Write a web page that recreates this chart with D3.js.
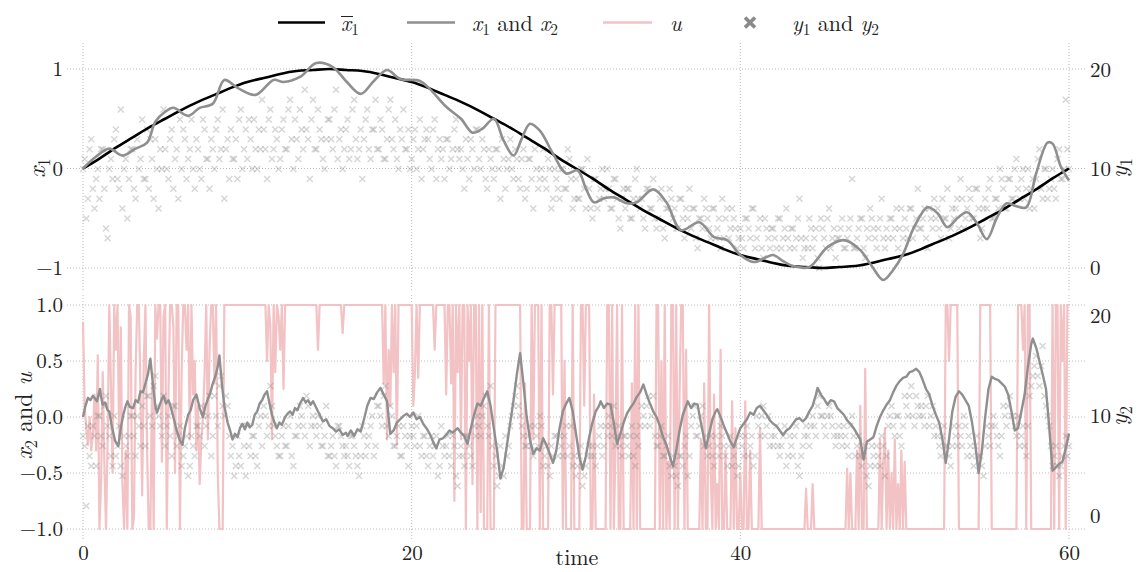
<!DOCTYPE html>
<html>
<head>
<meta charset="utf-8">
<script src="https://cdn.jsdelivr.net/npm/d3@7"></script>
<style>
  body { margin: 0; background: #fff; }
</style>
</head>
<body>
<svg id="mainsvg" width="1141" height="572"></svg>
<script>
// ---------------- data ----------------
// mean state x̄1 at t = 0,1,...,60
const meanTime = d3.range(0, 61, 1);
const meanX1 = [0,.10,.21,.31,.41,.50,.59,.67,.74,.81,.87,.91,.95,.98,.99,1,.99,.98,.95,.91,.87,.81,.74,.67,.59,.50,.41,.31,.21,.10,0,
  -.10,-.21,-.31,-.41,-.50,-.59,-.67,-.74,-.81,-.87,-.91,-.95,-.98,-.99,-1,-.99,-.98,-.95,-.91,-.87,-.81,-.74,-.67,-.59,-.50,-.41,-.31,-.21,-.10,0];

// simulated x1 (smooth)
const x1Time = [0,.8,1.6,2.4,3.2,3.9,4.4,5,5.5,6.4,7.1,7.9,8.6,9.4,10.5,11.6,12.2,13.2,14.2,15.2,16,16.9,17.7,18.5,19.3,20.5,21.1,22.1,23,23.7,24.3,25,25.6,26.2,26.7,27.2,27.8,28.6,29.4,30.1,30.6,31.1,31.7,32.3,33.1,33.7,34.7,35.5,36.4,37.5,38.4,39.2,40,40.8,41.6,42,42.6,43.2,44.2,45.3,46.3,47.3,48,48.7,49.3,49.9,50.6,51.4,52,52.6,53.2,53.8,54.4,55,55.6,56.2,56.8,57.4,58,58.7,59,59.5,60];
const x1Value = [0,.12,.2,.13,.2,.26,.47,.57,.61,.53,.61,.65,.89,.81,.74,.89,.87,.92,1.06,1.02,.88,.75,.88,.99,.9,.88,.8,.62,.5,.36,.4,.5,.28,.13,.3,.45,.38,.15,-.05,-.02,-.2,-.34,-.3,-.29,-.35,-.34,-.21,-.34,-.62,-.54,-.69,-.72,-.87,-.94,-.89,-.87,-.93,-.98,-.99,-.79,-.72,-.82,-.98,-1.12,-1.02,-.86,-.58,-.39,-.45,-.59,-.5,-.44,-.55,-.71,-.5,-.35,-.38,-.39,-.05,.26,.25,.02,-.12];

// simulated x2 (jagged)
const x2Time = [0,.15,.3,.45,.6,.75,.85,.95,1.03,1.1,1.2,1.35,1.5,1.6,1.75,1.95,2.15,2.3,2.45,2.6,2.7,2.85,3.05,3.2,3.35,3.5,3.65,3.8,3.95,4.1,4.25,4.4,4.5,4.65,4.8,4.9,5.05,5.2,5.3,5.5,5.7,5.9,6.05,6.2,6.4,6.55,6.7,6.9,7.1,7.3,7.45,7.6,7.75,7.9,8.05,8.2,8.3,8.45,8.6,8.8,8.95,9.1,9.25,9.4,9.55,9.7,9.85,10,10.15,10.3,10.45,10.6,10.75,10.9,11.05,11.2,11.35,11.5,11.65,11.8,11.95,12.1,12.3,12.45,12.6,12.75,12.9,13.05,13.2,13.4,13.55,13.7,13.85,14,14.2,14.4,14.6,14.8,15,15.2,15.4,15.6,15.8,16,16.1,16.3,16.5,16.7,16.9,17.1,17.3,17.5,17.7,17.9,18.1,18.3,18.5,18.7,18.9,19.1,19.3,19.5,19.7,19.9,20.1,20.3,20.5,20.7,20.9,21.1,21.3,21.5,21.7,21.9,22.1,22.3,22.5,22.8,23,23.2,23.4,23.6,23.8,24,24.2,24.4,24.6,24.8,25,25.2,25.4,25.6,25.8,26,26.2,26.4,26.6,26.8,27,27.2,27.4,27.6,27.8,28,28.2,28.4,28.6,28.8,29,29.2,29.4,29.6,29.8,30,30.2,30.4,30.6,30.8,31,31.2,31.4,31.5,31.7,31.9,32.1,32.3,32.5,32.7,32.9,33.1,33.3,33.5,33.7,33.9,34.1,34.3,34.5,34.7,34.9,35.1,35.3,35.5,35.7,35.9,36.1,36.3,36.5,36.7,36.8,37,37.2,37.4,37.6,37.8,37.9,38.1,38.3,38.5,38.6,38.8,39,39.2,39.4,39.6,39.8,40,40.2,40.4,40.6,40.8,41,41.2,41.4,41.6,41.8,42,42.2,42.4,42.6,42.8,43,43.2,43.4,43.6,43.8,44,44.2,44.4,44.6,44.7,44.9,45.1,45.3,45.5,45.7,45.9,46.1,46.3,46.5,46.7,46.9,47.1,47.3,47.5,47.7,47.9,48.1,48.3,48.5,48.7,48.9,49.1,49.3,49.5,49.7,49.9,50.1,50.3,50.5,50.7,50.9,51.1,51.3,51.5,51.7,51.9,52.1,52.3,52.5,52.7,52.9,53.1,53.3,53.5,53.7,53.9,54.1,54.3,54.5,54.7,54.9,55.1,55.3,55.5,55.7,55.9,56.1,56.3,56.5,56.7,56.9,57.1,57.3,57.5,57.7,57.8,58,58.2,58.4,58.6,58.8,59,59.2,59.4,59.6,59.8,60];
const x2Value = [0,.1,.17,.15,.19,.16,.14,.2,.25,.18,.11,.13,.06,.05,-.08,-.21,-.26,-.1,.02,.1,.14,.09,.08,.15,.13,.23,.22,.3,.38,.52,.3,.1,.04,.1,.16,.19,.12,.15,.11,0,-.12,-.21,-.25,-.1,.02,.06,.15,.2,.08,0,.1,.16,.22,.3,.36,.45,.55,.3,.1,-.05,-.12,-.2,-.15,-.18,-.1,-.06,-.11,-.05,-.09,-.07,.02,.05,.12,.15,.2,.23,.12,.02,-.05,-.1,-.05,-.07,0,.03,.05,.02,.08,.06,.12,.17,.13,.15,.11,.14,.08,.02,-.04,-.02,-.08,-.1,-.13,-.11,-.16,-.14,-.17,-.12,-.17,-.11,-.13,-.02,.1,.17,.16,.22,.26,.2,.14,-.15,-.12,-.05,-.02,.01,.03,0,.04,-.02,0,-.06,-.1,-.15,-.22,-.28,-.2,-.19,-.16,-.12,-.14,-.1,-.14,-.17,-.24,-.1,.02,.12,.1,.17,.23,.1,-.1,-.3,-.55,-.45,-.25,-.05,.15,.38,.57,.3,0,-.2,-.33,-.28,-.3,-.19,-.25,-.33,-.41,-.3,-.1,.05,.12,.17,.05,-.15,-.35,-.47,-.35,-.18,-.05,.05,.1,.14,.08,.12,.11,-.05,-.24,-.15,-.05,.03,.08,.12,.18,.22,.29,.2,.12,.05,0,-.08,-.18,-.25,-.35,-.44,-.3,-.12,.02,.1,.14,.08,.12,.11,-.05,-.2,-.28,-.15,-.02,.05,.07,0,-.08,-.15,-.22,-.27,-.18,-.1,-.06,-.02,.04,.02,.08,.1,.06,.02,-.03,-.06,-.08,-.12,-.16,-.12,-.1,-.06,-.02,-.01,-.04,-.01,.05,.1,.2,.26,.2,.16,.11,.15,.14,.08,.05,.02,-.03,-.06,-.1,-.15,-.2,-.38,-.22,-.2,-.18,-.08,0,.06,.11,.15,.22,.28,.32,.35,.36,.4,.41,.43,.4,.33,.25,.2,.1,.02,-.05,-.2,-.41,-.2,.05,.18,.23,.2,.15,.1,-.05,-.25,-.5,-.3,0,.25,.36,.34,.33,.3,.27,.2,.05,-.12,-.1,.05,.2,.45,.65,.7,.62,.5,.38,.25,-.1,-.48,-.45,-.42,-.4,-.28,-.15];

// control u, one value every 0.1 time units (rows = one time unit)
const uValue = [
  .85,.1,-.1,-.25,0,-.3,-.15,.2,-.3,.55,
  -1,-.6,.4,-.4,-1,-.2,1,.3,-.5,1,
  .6,1,-.2,.8,-.6,-1,-.3,-1,1,.9,
  -1,-.9,.4,1,1,.2,-.7,.5,1,-.3,
  -1,-1,.3,-1,1,.7,1,1,-.4,.9,
  1,-1,.2,1,1,.8,-.5,1,1,-1,
  .4,1,1,.6,1,-.2,1,.2,.5,-.3,
  .1,-.6,-.2,0,.4,1,-.2,.6,1,1,
  .3,1,-.5,-1,-1,-1,1,1,1,1,
  1,1,1,1,1,1,1,1,1,1,
  1,1,1,1,1,1,1,1,1,1,
  1,1,.5,1,.8,-.2,1,.4,1,.9,
  .6,1,.25,1,1,1,1,1,1,1,
  1,1,1,1,1,1,1,1,1,1,
  1,1,1,.6,1,1,1,1,1,1,
  1,1,1,1,1,1,1,1,.75,1,
  1,1,1,1,1,1,1,1,1,1,
  1,1,1,1,1,1,1,1,1,1,
  1,1,1,.3,1,-.2,.6,.1,1,.4,
  1,-.25,1,1,1,1,1,1,1,1,
  1,.1,.4,1,.35,1,1,1,1,1,
  1,1,1,1,.6,1,1,1,1,1,
  1,.2,1,1,.3,1,-.75,1,.4,1,
  -.2,1,1,-1,1,.5,1,-.6,1,1,
  -1,1,-.85,1,-1,-1,-1,1,-1,-1,
  -1,1,1,1,1,1,1,1,1,1,
  1,1,1,1,1,1,1,-1,-1,.3,
  -1,-1,-1,1,-.2,1,1,1,-1,1,
  -1,-1,-1,-1,1,1,.2,1,1,1,
  1,1,-1,.5,-1,-1,-1,-1,1,-1,
  -1,-1,-1,1,1,.1,1,1,1,-1,
  -1,.2,-1,-1,-1,-1,-1,-1,-1,1,
  1,-1,1,-1,-.3,1,-1,-1,1,-1,
  -1,-1,-1,-1,.3,-1,1,-1,1,-1,
  -1,-1,-1,-1,-1,-1,-1,-1,-1,1,
  1,-1,.5,-1,1,-1,-.4,-1,1,1,
  -1,1,-1,.2,1,1,-1,.6,-1,-1,
  -1,-1,-1,-1,-1,-1,-.2,-1,.3,-1,
  -1,1,-.5,-1,.2,-1,-.6,-1,.6,-1,
  -1,-.3,-1,-1,-1,.14,-1,-.1,-1,-1,
  -.5,-1,-1,.14,-1,-1,-.3,-1,-1,-1,
  -1,-1,-.1,-1,-1,-1,-1,-1,-1,-1,
  -1,-1,-1,-1,-1,-1,-1,-1,-1,-1,
  -1,-1,-1,-1,-1,-1,-1,-1,-1,-1,
  -.64,-1,-1,-1,-.6,-1,-1,-1,-1,-1,
  -1,-1,-1,-1,-1,-1,-1,-1,-1,-1,
  -1,-1,-1,-1,-1,-.46,-1,-.5,-1,-1,
  -1,-.3,-1,.1,-1,-1,.43,-1,-1,-1,
  -1,-1,-1,-1,-1,-.2,-1,-.4,-.1,-1,
  -.3,-1,-.5,-1,-.2,-1,-.6,-1,-.3,-1,
  -.4,-1,-1,-1,-1,-1,-1,-1,-1,-1,
  -1,-1,-1,-1,-1,-1,-1,-1,-1,-1,
  -1,-1,-1,-1,-1,1,1,.5,1,1,
  1,1,1,-1,-1,-1,-1,-1,-1,-1,
  -1,-1,-1,-1,-1,-1,1,1,1,1,
  1,1,1,-1,-1,-1,-1,-1,-1,-1,
  -1,-1,-1,-1,-1,-1,-1,-1,-1,1,
  1,1,.6,1,-1,1,1,-1,-1,-1,
  -1,-1,-1,-1,-1,-1,-1,-1,-1,-1,
  1,-1,1,1,-1,1,.5,1,-1,1,
  1];

// measurements y1, y2, one value every 0.1 time units (rows = one time unit)
const y1Value = [
  10,11,5,7,12,13,8,6,9,10, 7,12,12,8,4,3,10,11,9,13, 14,9,8,16,6,10,11,5,9,12,
  12,8,7,13,10,11,15,9,9,14, 8,13,11,7,13,10,6,12,10,16, 12,10,9,13,14,8,11,12,7,15,
  10,14,13,9,11,12,15,10,8,13, 12,10,9,15,14,11,11,8,13,12, 10,14,15,11,12,16,7,12,13,9,
  14,11,11,13,9,15,16,10,12,14, 11,15,13,10,15,12,10,14,12,17, 14,12,9,15,16,11,12,14,13,10,
  11,14,15,12,12,16,17,13,10,15, 13,11,16,14,12,18,14,13,9,15, 17,12,12,16,14,13,11,10,13,15,
  15,13,12,16,18,11,13,14,10,12, 14,15,11,12,16,17,13,11,12,14, 9,13,15,16,12,11,14,14,17,12,
  12,15,14,11,11,13,16,17,13,12, 15,11,10,14,13,16,12,12,14,10, 11,13,14,10,12,15,9,12,13,14,
  13,11,10,14,15,9,12,13,11,12, 9,13,13,10,11,12,14,15,12,11, 12,10,8,13,11,9,13,12,10,14,
  14,11,10,13,12,9,8,12,11,10, 9,12,12,10,7,13,11,8,10,11, 13,10,9,12,11,9,8,11,12,7,
  8,11,11,9,6,12,10,8,9,10, 12,9,8,11,10,6,7,10,9,8, 7,10,10,8,8,12,11,9,6,7,
  9,7,7,10,10,8,6,11,8,6, 5,9,9,6,7,8,10,7,8,10, 8,6,6,9,9,7,5,4,7,8,
  6,8,8,5,5,7,9,10,7,6, 7,5,4,8,8,6,6,9,5,4, 5,7,8,4,3,6,6,8,7,5,
  6,4,4,7,7,5,3,6,5,8, 4,6,6,3,2,5,5,4,7,6, 5,4,3,6,6,3,4,5,2,7,
  3,5,6,3,4,6,5,4,2,3, 4,3,2,5,5,4,3,6,6,2, 3,4,5,2,1,5,4,3,2,4,
  4,3,2,5,5,2,3,4,6,3, 2,4,4,2,3,5,7,3,1,2, 3,2,5,4,2,3,4,1,0,5,
  4,3,2,5,6,2,3,4,1,3, 3,4,5,2,2,3,4,5,9,2, 2,3,4,5,5,2,1,4,3,6,
  5,4,3,2,4,5,7,3,2,4, 3,5,5,3,4,6,2,4,6,3, 5,4,3,6,6,3,4,5,8,4,
  4,5,6,3,2,6,5,4,7,5, 6,4,3,7,5,5,8,3,4,6, 5,6,7,4,9,7,4,5,6,8,
  7,5,5,8,8,6,3,4,6,7, 6,8,9,5,5,7,7,6,10,9, 8,6,6,9,9,7,7,10,11,8,
  7,9,10,7,8,10,6,8,9,6, 9,11,12,8,7,10,10,7,8,9, 10,8,7,11,12,9,9,10,17,12,
  10];
const y2Value = [
  8,7,1,9,6,5,9,8,5,10, 10,8,7,11,12,9,8,6,5,10, 6,7,9,5,4,8,7,6,8,10,
  10,8,6,10,9,7,11,9,7,12, 12,10,9,13,14,11,10,9,8,12, 7,9,10,8,6,11,11,7,8,9,
  5,6,7,8,4,5,8,7,6,9, 9,8,11,10,7,9,10,12,6,8, 12,10,9,13,14,11,10,12,11,8,
  6,7,4,5,8,6,5,9,7,4, 9,7,6,8,8,6,5,9,10,7, 11,10,8,9,13,11,9,8,7,6,
  6,8,9,7,7,9,10,6,5,8, 8,9,11,10,9,8,12,11,7,9, 10,9,8,10,9,7,7,8,11,6,
  6,7,8,6,5,9,9,8,7,6, 7,6,5,8,8,7,6,5,4,6, 9,8,6,7,8,9,10,6,7,11,
  11,10,9,12,13,9,8,11,10,7, 7,8,9,6,6,9,8,7,5,8, 9,8,7,9,10,7,6,8,8,6,
  5,7,8,6,7,8,4,5,9,7, 6,7,8,6,5,8,7,4,3,6, 7,6,5,8,8,7,6,5,9,8,
  10,9,8,10,11,12,9,8,13,7, 5,6,3,4,7,5,4,8,6,7, 9,10,11,12,13,11,10,9,8,7,
  7,8,9,7,6,9,8,7,10,9, 5,6,7,5,4,7,6,8,8,6, 8,7,6,8,9,6,7,9,5,6,
  4,5,6,7,3,4,5,6,7,6, 7,6,5,7,8,9,6,7,9,8, 10,9,8,11,7,8,9,7,6,8,
  8,7,6,8,9,6,5,8,7,9, 11,10,9,11,12,9,10,12,8,7, 7,8,9,6,6,7,8,5,4,6,
  5,4,3,6,6,5,7,8,4,6, 9,10,11,8,8,9,10,11,7,8, 6,7,8,6,5,8,7,6,9,8,
  7,6,5,7,8,5,6,7,4,5, 8,7,6,8,9,6,7,8,5,6, 10,9,8,10,11,8,9,10,7,8,
  7,8,9,7,6,7,8,9,5,6, 8,7,6,8,9,5,4,6,7,8, 9,8,7,9,10,9,8,11,12,10,
  10,9,8,10,11,10,9,8,7,8, 9,8,7,9,8,7,6,9,10,8, 6,7,8,6,5,6,7,4,3,5,
  7,6,5,7,6,5,8,7,4,6, 9,10,11,9,8,10,10,8,7,9, 12,11,10,12,13,10,9,12,11,10,
  11,10,9,11,12,9,10,11,8,9, 8,7,6,8,9,7,7,6,5,7, 9,8,7,9,8,7,10,9,6,8,
  7,6,5,7,8,6,6,5,4,7, 9,8,7,9,10,9,8,7,6,8, 11,10,9,11,12,10,10,9,8,10,
  7,8,9,7,6,9,12,13,14,15, 16,14,13,15,17,12,11,10,9,7, 5,6,7,5,4,5,6,7,8,6,
  7];

const xTicks = [0, 20, 40, 60];
const topLeftTicks = [-1, 0, 1];
const botLeftTicks = [-1, -0.5, 0, 0.5, 1];
const rightTicks = [0, 10, 20];

// ---------------- layout ----------------
const svg = d3.select('#mainsvg');
const left = 67, right = 1087;
const topPanel = { top: 43, bottom: 290 };
const botPanel = { top: 295, bottom: 540 };
const FS = 21;      // tick labels
const LFS = 24;     // axis labels
const GFS = 22;     // legend
const FONT = '"Latin Modern Roman", "Liberation Serif", serif';
const gridColor = '#b3b3b3';
const grayLine = '#8f8f8f';
const pink = '#f2c2c4';

const xScale = d3.scaleLinear().domain([0, 60]).range([83, 1069]);
const yTop = d3.scaleLinear().domain([-1, 1]).range([268, 69]);
const yTopR = d3.scaleLinear().domain([0, 20]).range([268, 70]);
const yBot = d3.scaleLinear().domain([-1, 1]).range([529, 305]);
const yBotR = d3.scaleLinear().domain([0, 20]).range([516, 316]);

const minusFmt = d => (d < 0 ? '\u2212' : '') + Math.abs(d);
const fmt1 = d3.format('.1f');

// grid
function grid(yS, ticks, panel) {
  const g = svg.append('g').attr('class', 'grid');
  g.selectAll('.h').data(ticks).join('line')
    .attr('x1', left).attr('x2', right)
    .attr('y1', d => yS(d)).attr('y2', d => yS(d))
    .attr('stroke', gridColor).attr('stroke-width', 0.9).attr('stroke-dasharray', '1,2');
  g.selectAll('.v').data(xTicks).join('line')
    .attr('x1', d => xScale(d)).attr('x2', d => xScale(d))
    .attr('y1', panel.top).attr('y2', panel.bottom)
    .attr('stroke', gridColor).attr('stroke-width', 0.9).attr('stroke-dasharray', '1,2');
}
grid(yTop, topLeftTicks, topPanel);
grid(yBot, botLeftTicks, botPanel);

// axes (no spines, no tick marks)
function axis(gen, x, y) {
  const g = svg.append('g').attr('transform', `translate(${x},${y})`).call(gen);
  g.select('.domain').remove();
  g.selectAll('text').style('font-family', FONT).style('font-size', FS + 'px').attr('fill', '#222');
  return g;
}
axis(d3.axisLeft(yTop).tickValues(topLeftTicks).tickSize(0).tickPadding(4).tickFormat(minusFmt), left, 0);
axis(d3.axisRight(yTopR).tickValues(rightTicks).tickSize(0).tickPadding(3).tickFormat(d3.format('d')), right, 0);
axis(d3.axisLeft(yBot).tickValues(botLeftTicks).tickSize(0).tickPadding(4).tickFormat(d => (d < 0 ? '\u2212' : '') + fmt1(Math.abs(d))), left, 0);
axis(d3.axisRight(yBotR).tickValues(rightTicks).tickSize(0).tickPadding(3).tickFormat(d3.format('d')), right, 0);
axis(d3.axisBottom(xScale).tickValues(xTicks).tickSize(0).tickPadding(5).tickFormat(d3.format('d')), 0, botPanel.bottom);

// ---------------- marks ----------------
const crossPath = 'M-3,-3L3,3M-3,3L3,-3';
const y1Time = y1Value.map((d, i) => i * 0.1);
const y2Time = y2Value.map((d, i) => i * 0.1);
const uTime = uValue.map((d, i) => i * 0.1);

// top panel
svg.append('g').selectAll('path').data(y1Value).join('path')
  .attr('d', crossPath)
  .attr('transform', (d, i) => `translate(${xScale(y1Time[i])},${yTopR(d)})`)
  .attr('stroke', '#808080').attr('stroke-opacity', 0.32).attr('stroke-width', 1.4).attr('fill', 'none');

svg.append('path')
  .attr('d', d3.line().x((d, i) => xScale(meanTime[i])).y(d => yTop(d)).curve(d3.curveNatural)(meanX1))
  .attr('fill', 'none').attr('stroke', '#000').attr('stroke-width', 2.6);

svg.append('path')
  .attr('d', d3.line().x((d, i) => xScale(x1Time[i])).y(d => yTop(d)).curve(d3.curveCatmullRom.alpha(0.5))(x1Value))
  .attr('fill', 'none').attr('stroke', grayLine).attr('stroke-width', 2.6);

// bottom panel
svg.append('path')
  .attr('d', d3.line().x((d, i) => xScale(uTime[i])).y(d => yBot(d))(uValue))
  .attr('fill', 'none').attr('stroke', pink).attr('stroke-width', 2.2).attr('stroke-linejoin', 'round');

svg.append('g').selectAll('path').data(y2Value).join('path')
  .attr('d', crossPath)
  .attr('transform', (d, i) => `translate(${xScale(y2Time[i])},${yBotR(d)})`)
  .attr('stroke', '#808080').attr('stroke-opacity', 0.32).attr('stroke-width', 1.4).attr('fill', 'none');

svg.append('path')
  .attr('d', d3.line().x((d, i) => xScale(x2Time[i])).y(d => yBot(d))(x2Value))
  .attr('fill', 'none').attr('stroke', grayLine).attr('stroke-width', 2.4).attr('stroke-linejoin', 'round');

// ---------------- text with math ----------------
// parts: [string, kind] kind: 'i' italic, 'sub' subscript, '' roman
function mathText(x, y, parts, opts = {}) {
  const fs = opts.size || LFS;
  const t = svg.append('text')
    .style('font-family', FONT).style('font-size', fs + 'px').attr('fill', '#222')
    .attr('text-anchor', opts.anchor || 'start');
  if (opts.rotate) t.attr('transform', `translate(${x},${y}) rotate(-90)`);
  else t.attr('x', x).attr('y', y);
  let shifted = false;
  parts.forEach(([s, kind]) => {
    const sp = t.append('tspan').text(s);
    if (kind === 'i') sp.style('font-style', 'italic');
    if (kind === 'sub') {
      sp.style('font-size', (fs * 0.7) + 'px').attr('dy', fs * 0.2);
      shifted = true;
    } else if (shifted) {
      sp.attr('dy', -fs * 0.2);
      shifted = false;
    }
  });
  return t;
}

// axis labels
mathText(45, 168, [['x', 'i'], ['1', 'sub']], { rotate: true, anchor: 'middle' });
mathText(32, 416, [['x', 'i'], ['2', 'sub'], [' and ', ''], ['u', 'i']], { rotate: true, anchor: 'middle' });
mathText(1127, 168, [['y', 'i'], ['1', 'sub']], { rotate: true, anchor: 'middle' });
mathText(1127, 416, [['y', 'i'], ['2', 'sub']], { rotate: true, anchor: 'middle' });
mathText(577, 565, [['time', '']], { anchor: 'middle', size: 22 });

// legend
const legY = 22.5, textY = 31;
svg.append('line').attr('x1', 278).attr('x2', 325).attr('y1', legY).attr('y2', legY).attr('stroke', '#000').attr('stroke-width', 2.6);
mathText(341, textY, [['x', 'i'], ['1', 'sub']], { size: GFS });
svg.append('line').attr('x1', 341).attr('x2', 353).attr('y1', 16.5).attr('y2', 16.5).attr('stroke', '#222').attr('stroke-width', 1);

svg.append('line').attr('x1', 407).attr('x2', 455).attr('y1', legY).attr('y2', legY).attr('stroke', grayLine).attr('stroke-width', 2.6);
mathText(472, textY, [['x', 'i'], ['1', 'sub'], [' and ', ''], ['x', 'i'], ['2', 'sub']], { size: GFS });

svg.append('line').attr('x1', 603).attr('x2', 652).attr('y1', legY).attr('y2', legY).attr('stroke', pink).attr('stroke-width', 2.6);
mathText(670, textY, [['u', 'i']], { size: GFS });

svg.append('path').attr('d', 'M-5,-5L5,5M-5,5L5,-5').attr('transform', `translate(750,${legY})`)
  .attr('stroke', '#8a8a8a').attr('stroke-width', 3.6).attr('fill', 'none');
mathText(792, textY, [['y', 'i'], ['1', 'sub'], [' and ', ''], ['y', 'i'], ['2', 'sub']], { size: GFS });
</script>
</body>
</html>
